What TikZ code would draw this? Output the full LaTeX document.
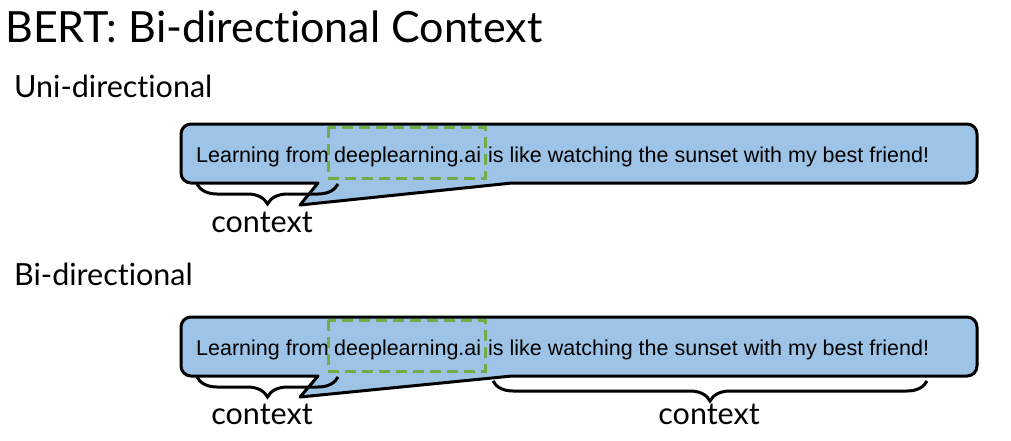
\documentclass[tikz,border=0pt]{standalone}
\usepackage{fontspec}
\setmainfont{Lato}[Ligatures=NoCommon]
\newfontfamily\arialf{Liberation Sans}
\usetikzlibrary{decorations.pathreplacing}
\definecolor{bubblefill}{HTML}{9DC3E6}
\definecolor{dashgreen}{HTML}{70AD47}
\begin{document}
\begin{tikzpicture}[x=1pt,y=-1pt,
  bubble/.style={draw=black,fill=bubblefill,line width=3pt,line join=round},
  greenbox/.style={draw=dashgreen,line width=3pt,dash pattern=on 11pt off 6pt},
  sentence/.style={font=\arialf\fontsize{21.5}{24}\selectfont,inner sep=0pt,anchor=base west},
  bracestyle/.style={draw=black,line width=3pt,decorate,decoration={brace,amplitude=20pt,mirror}},
  ctx/.style={font=\fontsize{30.5}{33}\selectfont,inner sep=0pt,anchor=base},
  heading/.style={font=\fontsize{30.5}{33}\selectfont,inner sep=0pt,anchor=base west}]
\useasboundingbox (0,0) rectangle (1011,440);
\fill[white] (0,0) rectangle (1011,440);
\node[font=\fontsize{43}{46}\selectfont,inner sep=0pt,anchor=base west] (title) at (5,42) {BERT: Bi-directional Context};
\node[heading] (uni) at (14,97) {Uni-directional};
\node[heading] (bi) at (14,285) {Bi-directional};
% first bubble
\path[bubble] (300,205) -- (512,183) -- (967,183) arc[start angle=-90,end angle=0,radius=10pt]
  -- (977,134) arc[start angle=0,end angle=90,radius=10pt]
  -- (191,124) arc[start angle=90,end angle=180,radius=10pt]
  -- (181,173) arc[start angle=180,end angle=270,radius=10pt]
  -- (318,183) -- cycle;
\draw[greenbox] (328,127) rectangle (485,178);
\node[sentence] (s1a) at (196,162) {Learning from};
\node[sentence] (s1b) at (334,162) {deeplearning.ai};
\node[sentence] (s1c) at (488,162) {is like watching the sunset with my best friend!};
\draw[bracestyle] (197,184) -- (338,184);
\node[ctx] (c1) at (262,232) {context};
% second bubble
\path[bubble] (300,397) -- (512,376) -- (967,376) arc[start angle=-90,end angle=0,radius=10pt]
  -- (977,327) arc[start angle=0,end angle=90,radius=10pt]
  -- (191,317) arc[start angle=90,end angle=180,radius=10pt]
  -- (181,366) arc[start angle=180,end angle=270,radius=10pt]
  -- (318,376) -- cycle;
\draw[greenbox] (328,320) rectangle (485,371);
\node[sentence] (s2a) at (196,355) {Learning from};
\node[sentence] (s2b) at (334,355) {deeplearning.ai};
\node[sentence] (s2c) at (488,355) {is like watching the sunset with my best friend!};
\draw[bracestyle] (197,377) -- (338,377);
\draw[bracestyle] (493,381) -- (927,381);
\node[ctx] (c2) at (262,424) {context};
\node[ctx] (c3) at (709,424) {context};
\end{tikzpicture}
\end{document}
